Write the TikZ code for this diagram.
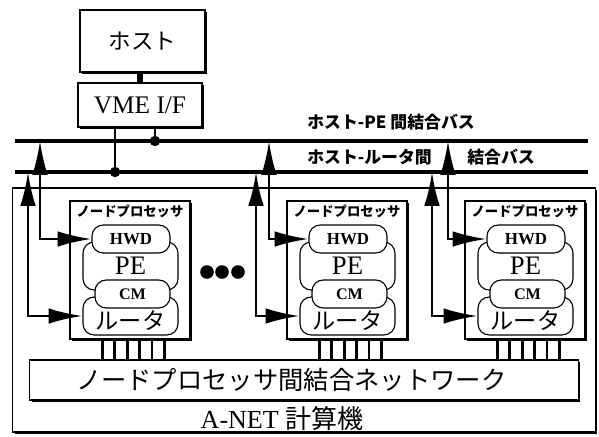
\documentclass[tikz,border=0pt]{standalone}
\usepackage{fontspec}
\setmainfont{Liberation Serif}
\newfontfamily\jp{Noto Sans CJK JP}
\usetikzlibrary{arrows.meta,shadows}

\tikzset{
  shbox/.style={draw, line width=0.8pt, fill=white,
    drop shadow={shadow xshift=1.4pt, shadow yshift=-1.4pt, opacity=1, fill=black}},
  part/.style={draw, line width=0.8pt, fill=white, rounded corners=8pt},
  bus/.style={line width=2.2pt},
  tap/.style={line width=1.8pt, <->, >={Latex[length=24pt,width=11pt]}},
  buslbl/.style={font=\jp\bfseries\fontsize{12}{13}\selectfont, anchor=west, inner sep=0pt},
}

\begin{document}
\begin{tikzpicture}[x=0.025cm,y=-0.025cm]
  \useasboundingbox (0,0) rectangle (599,436);
  \node[shbox, minimum width=14.55cm, minimum height=6.1cm] (anet) at (304,310) {};
  \node[font=\fontsize{18.5}{20}\selectfont] (anetlbl) at (282,419) {A-NET {\jp 計算機}};

  \node[shbox, minimum width=3.125cm, minimum height=1.55cm,
    font=\jp\fontsize{16}{18}\selectfont] (host) at (142.5,41) {ホスト};
  \node[shbox, minimum width=3.1cm, minimum height=1.1cm,
    font=\fontsize{18}{20}\selectfont] (vme) at (140,105) {VME I/F};
  \draw[line width=4pt] (vme.north |- host.south) -- (vme.north);

  \coordinate (bus1) at (15,141);
  \coordinate (bus2) at (15,172);
  \draw[bus] (bus1) -- (588,141);
  \draw[bus] (bus2) -- (588,172);
  \coordinate (j1) at (155,141);
  \coordinate (j2) at (115,172);
  \draw[line width=2pt] (vme.south -| j1) -- (j1);
  \draw[line width=2pt] (vme.south -| j2) -- (j2);
  \fill (j1) circle (0.13cm);
  \fill (j2) circle (0.13cm);

  \node[buslbl] (lbl1) at (307,122) {ホスト-PE 間結合バス};
  \node[buslbl] (lbl2) at (307,157) {ホスト-ルータ間};
  \node[buslbl] (lbl3) at (467,157) {結合バス};

  \node[shbox, minimum width=13.7cm, minimum height=1cm] (net) at (304,380) {};
  \node[font=\jp\fontsize{18}{20}\selectfont] (netlbl) at ([xshift=-0.32cm]net.center)
    {ノードプロセッサ間結合ネットワーク};

  \foreach \i/\l/\a/\b in {1/70/40/28, 2/287/269/256, 3/465/448/432}{
    \node[shbox, minimum width=3cm, minimum height=3.45cm] (np\i) at (\l+60,270) {};
    \node[font=\jp\bfseries\fontsize{9.5}{10}\selectfont] at (\l+60,211) {ノードプロセッサ};
    \node[part, minimum width=2.375cm, minimum height=1.2cm,
      font=\fontsize{19}{20}\selectfont] (pe\i) at (\l+60.5,266) {PE};
    \node[part, minimum width=2.375cm, minimum height=0.95cm] (rt\i) at (\l+60.5,316) {};
    \node[font=\jp\fontsize{16.5}{18}\selectfont] at ([yshift=-0.12cm]rt\i.center) {ルータ};
    \node[part, minimum width=1.95cm, minimum height=0.7cm,
      font=\bfseries\fontsize{12}{13}\selectfont] (hwd\i) at (\l+61,239) {HWD};
    \node[part, minimum width=1.875cm, minimum height=0.7cm,
      font=\bfseries\fontsize{11.5}{12}\selectfont] (cm\i) at (\l+62.5,294) {CM};
    \foreach \k in {0,...,5}{
      \path (np\i.south west) ++({33+12.4*\k},0) coordinate (pin);
      \draw[line width=2pt] (pin) -- (pin |- net.north);
    }
    \draw[tap] (bus1 -| \a,0) |- (hwd\i.west);
    \draw[tap] (bus2 -| \b,0) |- (rt\i.west);
  }

  \foreach \x in {207,222,238}
    \fill (\x,272) circle (0.17cm);
\end{tikzpicture}
\end{document}
